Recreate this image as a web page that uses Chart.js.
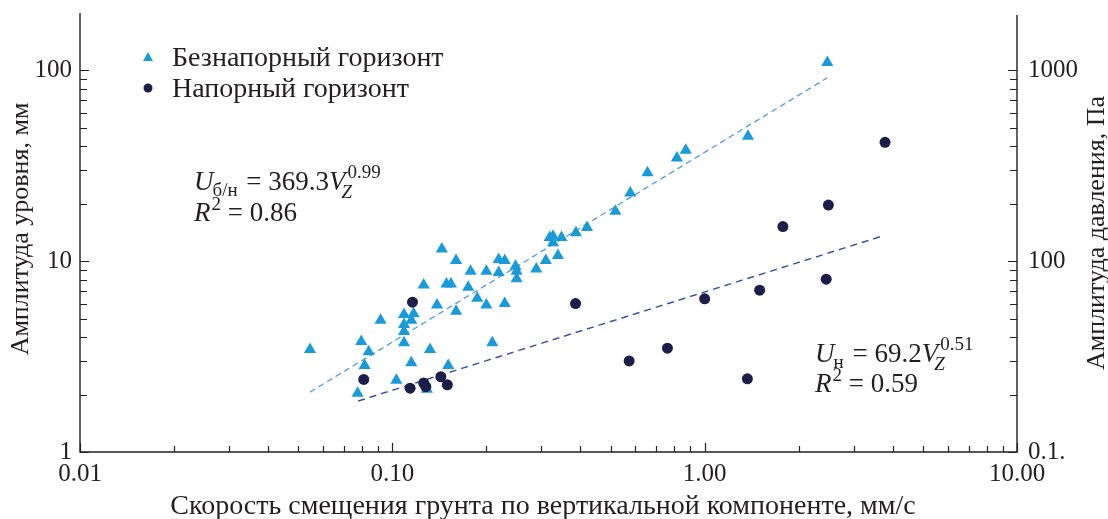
<!DOCTYPE html>
<html><head><meta charset="utf-8">
<script src="https://cdn.jsdelivr.net/npm/chart.js@4/dist/chart.umd.min.js"></script>
<style>html,body{margin:0;padding:0;background:#fff;}canvas{display:block;}</style>
</head><body>
<canvas id="c" width="1108" height="519"></canvas>
<script>
// ---- data ----
const unconfinedX = [0.0545,0.0774,0.0795,0.0815,0.084,0.0917,0.103,0.109,0.109,0.109,0.109,0.115,0.115,0.117,0.126,0.129,0.132,0.139,0.144,0.149,0.151,0.154,0.160,0.160,0.175,0.178,0.187,0.200,0.200,0.209,0.219,0.219,0.229,0.229,0.248,0.250,0.250,0.289,0.310,0.319,0.327,0.327,0.339,0.348,0.387,0.420,0.518,0.578,0.656,0.815,0.870,1.376,2.47];
const unconfinedY = [3.45,2.03,3.80,2.84,3.35,4.90,2.38,5.26,4.66,4.28,3.74,2.94,4.90,5.30,7.50,2.13,3.45,5.90,11.6,7.60,2.84,7.60,10.1,5.47,7.30,8.87,6.40,8.87,5.90,3.74,10.2,8.73,10.1,6.00,9.40,8.87,8.10,9.10,10.1,13.3,13.5,12.5,10.7,13.3,14.1,15.0,18.3,22.8,29.1,34.8,38.2,45.2,110];
const confinedX = [0.116,0.081,0.114,0.126,0.128,0.143,0.150,0.386,0.573,0.760,1.00,1.37,1.50,1.78,2.45,2.49,3.78];
const confinedY = [6.1,2.4,2.16,2.3,2.2,2.48,2.25,6.0,3.0,3.5,6.35,2.42,7.05,15.2,8.05,19.7,42.0];
const trendUnconfinedX = [0.0545, 2.47];
const trendUnconfinedY = [2.06, 91.5];
const trendConfinedX = [0.0777, 3.76];
const trendConfinedY = [1.85, 13.65];
const seriesNames = ['Безнапорный горизонт', 'Напорный горизонт'];
const xMajorTicks = [0.01, 0.1, 1, 10];
const xTickLabels = ['0.01', '0.10', '1.00', '10.00'];
const xMinorTicks = [0.02,0.03,0.04,0.05,0.06,0.07,0.08,0.09,0.2,0.3,0.4,0.5,0.6,0.7,0.8,0.9,2,3,4,5,6,7,8,9];
const yMajorTicks = [1, 10, 100];
const yTickLabels = ['1', '10', '100'];
const yMinorTicks = [2,3,4,5,6,7,8,9,20,30,40,50,60,70,80,90];
const y2MajorTicks = [10, 100, 1000];
const y2TickLabels = ['0.1.', '100', '1000'];
const y2MinorTicks = [20,30,40,50,60,70,80,90,200,300,400,500,600,700,800,900];
const xTitle = 'Скорость смещения грунта по вертикальной компоненте, мм/с';
const yTitle = 'Амплитуда уровня, мм';
const y2Title = 'Амплитуда давления, Па';

const toPts = (xs, ys) => xs.map((x, i) => ({x, y: ys[i]}));
const SERIF = '"Liberation Serif", "Times New Roman", serif';
const INK = '#231f20';
const TRI = '#1a9ad8';
const DOT = '#1b1e48';

function drawRich(ctx, x, y, parts) {
  let cx = x;
  for (const p of parts) {
    if (p.stack) {
      let w = 0;
      for (const s of p.stack) {
        ctx.font = s.font;
        ctx.fillText(s.t, cx + (s.dx || 0), y + (s.dy || 0));
        w = Math.max(w, ctx.measureText(s.t).width + (s.dx || 0));
      }
      cx += w;
    } else {
      ctx.font = p.font;
      ctx.fillText(p.t, cx + (p.dx || 0), y + (p.dy || 0));
      cx += ctx.measureText(p.t).width + (p.dx || 0);
    }
  }
}

const deco = {
  id: 'deco',
  afterDraw(chart) {
    const ctx = chart.ctx;
    const sx = chart.scales.x, sy = chart.scales.y, sy2 = chart.scales.y2;
    const ca = chart.chartArea;
    ctx.save();
    ctx.strokeStyle = INK;
    ctx.lineWidth = 1.4;
    ctx.beginPath();
    ctx.moveTo(ca.left, ca.top); ctx.lineTo(ca.left, ca.bottom); ctx.lineTo(ca.right, ca.bottom); ctx.lineTo(ca.right, ca.top + 2);
    ctx.stroke();
    ctx.lineWidth = 1.2;
    ctx.beginPath();
    const tick = (arr, len, fn) => arr.forEach(v => fn(v, len));
    const xt = (v, len) => { const p = Math.round(sx.getPixelForValue(v)) + 0.5; ctx.moveTo(p, ca.bottom); ctx.lineTo(p, ca.bottom - len); };
    const yt = (v, len) => { const p = Math.round(sy.getPixelForValue(v)) + 0.5; ctx.moveTo(ca.left, p); ctx.lineTo(ca.left + len, p); };
    const y2t = (v, len) => { const p = Math.round(sy2.getPixelForValue(v)) + 0.5; ctx.moveTo(ca.right, p); ctx.lineTo(ca.right - len, p); };
    tick(xMajorTicks, 9, xt); tick(xMinorTicks, 6, xt);
    tick(yMajorTicks, 9, yt); tick(yMinorTicks, 7, yt);
    tick(y2MajorTicks, 9, y2t); tick(y2MinorTicks, 7, y2t);
    ctx.stroke();

    ctx.fillStyle = INK;
    ctx.textBaseline = 'alphabetic';
    // axis titles
    ctx.textAlign = 'center';
    ctx.font = '28px ' + SERIF;
    ctx.fillText(xTitle, 543, 514);
    ctx.font = '26px ' + SERIF;
    ctx.save(); ctx.translate(28, 229); ctx.rotate(-Math.PI / 2); ctx.fillText(yTitle, 0, 0); ctx.restore();
    ctx.save(); ctx.translate(1104, 233); ctx.rotate(-Math.PI / 2); ctx.fillText(y2Title, 0, 0); ctx.restore();

    // legend
    ctx.textAlign = 'left';
    ctx.font = '28px ' + SERIF;
    ctx.fillText(seriesNames[0], 172, 66);
    ctx.fillText(seriesNames[1], 172, 97);
    ctx.fillStyle = TRI;
    ctx.beginPath(); ctx.moveTo(148, 52); ctx.lineTo(153, 61); ctx.lineTo(143, 61); ctx.closePath(); ctx.fill();
    ctx.fillStyle = DOT;
    ctx.beginPath(); ctx.arc(148, 88, 4.5, 0, Math.PI * 2); ctx.fill();

    // equations
    ctx.fillStyle = INK;
    const I = 'italic 27px ' + SERIF, R = '27px ' + SERIF, iS = 'italic 19px ' + SERIF, S = '19px ' + SERIF;
    drawRich(ctx, 194, 190, [
      {t: 'U', font: I}, {t: 'б/н', font: S, dy: 6, dx: -1}, {t: ' = 369.3', font: R, dx: 2}, {t: 'V', font: I},
      {stack: [{t: 'Z', font: iS, dy: 8, dx: -4}, {t: '0.99', font: S, dy: -12, dx: 2}]}
    ]);
    drawRich(ctx, 194, 221, [
      {t: 'R', font: I}, {t: '2', font: S, dy: -11, dx: 1}, {t: ' = 0.86', font: R}
    ]);
    drawRich(ctx, 815, 362, [
      {t: 'U', font: I}, {t: 'н', font: S, dy: 6, dx: -1}, {t: ' = 69.2', font: R, dx: 2}, {t: 'V', font: I},
      {stack: [{t: 'Z', font: iS, dy: 8, dx: -4}, {t: '0.51', font: S, dy: -12, dx: 2}]}
    ]);
    drawRich(ctx, 815, 392, [
      {t: 'R', font: I}, {t: '2', font: S, dy: -11, dx: 1}, {t: ' = 0.59', font: R}
    ]);
    ctx.restore();
  }
};

const tickFont = {family: SERIF, size: 25};
const noPad = s => { s.paddingTop = 0; s.paddingBottom = 0; s.paddingLeft = 0; s.paddingRight = 0; };
new Chart(document.getElementById('c'), {
  type: 'scatter',
  data: {
    datasets: [
      {label: seriesNames[0], data: toPts(unconfinedX, unconfinedY), pointStyle: 'triangle', pointRadius: 7, backgroundColor: TRI, borderColor: TRI, borderWidth: 0, order: 1},
      {label: seriesNames[1], data: toPts(confinedX, confinedY), pointStyle: 'circle', pointRadius: 5.5, backgroundColor: DOT, borderColor: DOT, borderWidth: 0, order: 0},
      {label: 'trend1', type: 'line', data: toPts(trendUnconfinedX, trendUnconfinedY), showLine: true, pointRadius: 0, borderColor: '#4d9de0', borderWidth: 1.3, borderDash: [6, 4], fill: false, order: 3},
      {label: 'trend2', type: 'line', data: toPts(trendConfinedX, trendConfinedY), showLine: true, pointRadius: 0, borderColor: '#3656a6', borderWidth: 1.5, borderDash: [7, 5], fill: false, order: 2}
    ]
  },
  options: {
    responsive: false,
    animation: false,
    devicePixelRatio: 1,
    layout: {padding: {top: 13, left: 0, right: 0, bottom: 0}},
    plugins: {legend: {display: false}, tooltip: {enabled: false}},
    scales: {
      x: {
        type: 'logarithmic', position: 'bottom', min: 0.01, max: 10,
        afterBuildTicks: s => { s.ticks = xMajorTicks.map(v => ({value: v})); },
        afterFit: s => { s.height = 67; noPad(s); },
        grid: {display: false, drawTicks: false}, border: {display: false},
        ticks: {autoSkip: false, maxRotation: 0, padding: 7, color: INK, font: tickFont,
          callback: v => { const i = xMajorTicks.indexOf(v); return i >= 0 ? xTickLabels[i] : ''; }}
      },
      y: {
        type: 'logarithmic', position: 'left', min: 1, max: 200,
        afterBuildTicks: s => { s.ticks = yMajorTicks.map(v => ({value: v})); },
        afterFit: s => { s.width = 80; noPad(s); },
        grid: {display: false, drawTicks: false}, border: {display: false},
        ticks: {autoSkip: false, padding: 8, color: INK, font: tickFont,
          callback: v => { const i = yMajorTicks.indexOf(v); return i >= 0 ? yTickLabels[i] : ''; }}
      },
      y2: {
        type: 'logarithmic', position: 'right', min: 10, max: 2000,
        afterBuildTicks: s => { s.ticks = y2MajorTicks.map(v => ({value: v})); },
        afterFit: s => { s.width = 91; noPad(s); },
        grid: {display: false, drawTicks: false}, border: {display: false},
        ticks: {autoSkip: false, padding: 11, color: INK, font: tickFont,
          callback: v => { const i = y2MajorTicks.indexOf(v); return i >= 0 ? y2TickLabels[i] : ''; }}
      }
    }
  },
  plugins: [deco]
});
</script>
</body></html>
